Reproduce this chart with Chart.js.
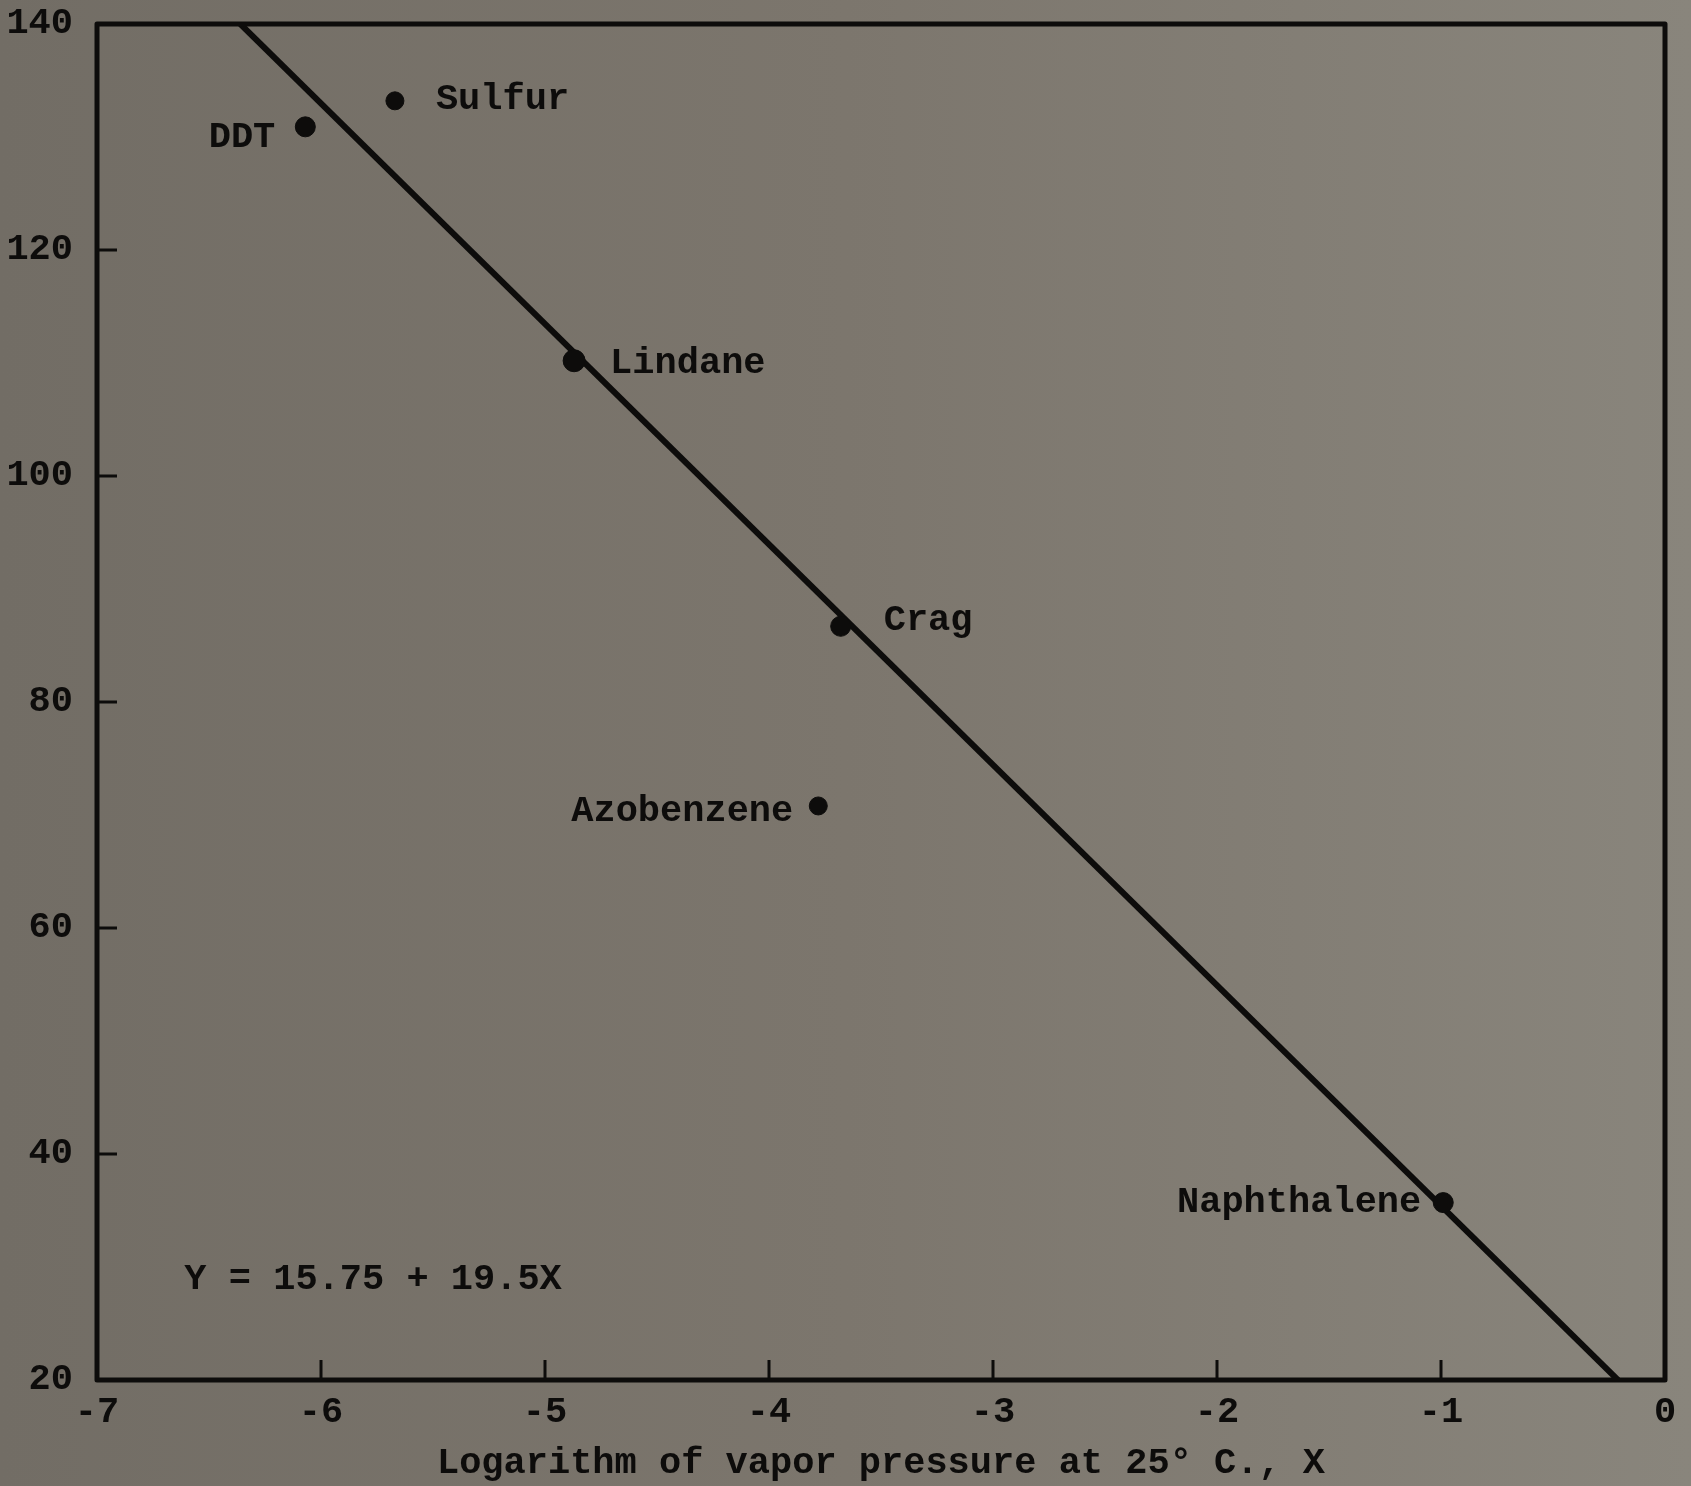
<!DOCTYPE html>
<html>
<head>
<meta charset="utf-8">
<script src="https://cdn.jsdelivr.net/npm/chart.js@4"></script>
<style>
  html, body { margin: 0; padding: 0; background: #7b766e; }
  #wrap { width: 1691px; height: 1486px; }
</style>
</head>
<body>
<div id="wrap"><canvas id="chart" width="1691" height="1486"></canvas></div>
<script>
// compounds and their readings
const names = ["DDT", "Sulfur", "Lindane", "Crag", "Azobenzene", "Naphthalene"];
const logVapor = [-6.07, -5.67, -4.87, -3.68, -3.78, -0.99];
const yValues = [130.9, 133.2, 110.2, 86.7, 70.8, 35.7];

// fitted line, end points where it meets the frame
const fitX = [-6.36, -0.21];
const fitY = [140, 20];

const equation = "Y = 15.75 + 19.5X";
const equationAt = { x: -6.61, y: 28.9 };

const xTicks = [-7, -6, -5, -4, -3, -2, -1, 0];
const yTicks = [20, 40, 60, 80, 100, 120, 140];

const FONT = "'Liberation Mono', 'DejaVu Sans Mono', monospace";
const INK = "#0d0c0b";

// where each name sits relative to its dot: [dx, dy, align]
const labelPlace = [
  [-30, 11, "right"],
  [41, -1, "left"],
  [36, 3, "left"],
  [43, -6, "left"],
  [-25, 6, "right"],
  [-22, 0, "right"],
];
const dotSize = [10, 9, 11, 10, 9, 10];

const paper = {
  id: "paper",
  beforeDraw(chart) {
    const { ctx, width, height } = chart;
    const g = ctx.createLinearGradient(0, 0, width, 0);
    g.addColorStop(0, "#726d65");
    g.addColorStop(0.5, "#7c766d");
    g.addColorStop(1, "#89857c");
    ctx.save();
    ctx.fillStyle = g;
    ctx.fillRect(0, 0, width, height);
    ctx.restore();
  },
};

const frame = {
  id: "frame",
  afterDraw(chart) {
    const { ctx, chartArea: a, scales } = chart;
    ctx.save();
    ctx.strokeStyle = INK;
    ctx.lineWidth = 5;
    ctx.lineJoin = "round";
    ctx.strokeRect(a.left, a.top, a.right - a.left, a.bottom - a.top);
    ctx.lineWidth = 3;
    ctx.beginPath();
    xTicks.slice(1, -1).forEach((v) => {
      const px = scales.x.getPixelForValue(v);
      ctx.moveTo(px, a.bottom);
      ctx.lineTo(px, a.bottom - 20);
    });
    yTicks.slice(1, -1).forEach((v) => {
      const py = scales.y.getPixelForValue(v);
      ctx.moveTo(a.left, py);
      ctx.lineTo(a.left + 20, py);
    });
    ctx.stroke();

    ctx.fillStyle = INK;
    ctx.font = "bold 37px " + FONT;
    ctx.textBaseline = "middle";
    ctx.textAlign = "left";
    ctx.fillText(equation, scales.x.getPixelForValue(equationAt.x), scales.y.getPixelForValue(equationAt.y));
    ctx.restore();
  },
};

const nameLabels = {
  id: "names",
  afterDatasetsDraw(chart) {
    const { ctx } = chart;
    const meta = chart.getDatasetMeta(0);
    ctx.save();
    ctx.fillStyle = INK;
    ctx.font = "bold 37px " + FONT;
    ctx.textBaseline = "middle";
    meta.data.forEach((pt, i) => {
      const [dx, dy, align] = labelPlace[i];
      ctx.textAlign = align;
      ctx.fillText(names[i], pt.x + dx, pt.y + dy);
    });
    ctx.restore();
  },
};

new Chart(document.getElementById("chart"), {
  type: "scatter",
  data: {
    datasets: [
      {
        label: "compounds",
        data: logVapor.map((x, i) => ({ x, y: yValues[i] })),
        backgroundColor: INK,
        borderColor: INK,
        pointRadius: dotSize,
        pointHoverRadius: dotSize,
      },
      {
        label: "fit",
        data: fitX.map((x, i) => ({ x, y: fitY[i] })),
        showLine: true,
        borderColor: INK,
        borderWidth: 6,
        pointRadius: 0,
      },
    ],
  },
  options: {
    responsive: false,
    animation: false,
    events: [],
    layout: { padding: { top: 24, right: 26, left: 0, bottom: 0 } },
    plugins: {
      legend: { display: false },
      tooltip: { enabled: false },
    },
    scales: {
      x: {
        type: "linear",
        min: -7,
        max: 0,
        afterBuildTicks: (s) => { s.ticks = xTicks.map((v) => ({ value: v })); },
        afterFit: (s) => { s.height = 106; s.paddingLeft = 0; s.paddingRight = 0; },
        grid: { display: false, drawTicks: false },
        border: { display: false },
        ticks: {
          color: INK,
          padding: 10,
          font: { family: FONT, size: 37, weight: "bold" },
        },
        title: {
          display: true,
          text: "Logarithm of vapor pressure at 25° C., X",
          color: INK,
          padding: { top: 0, bottom: 0 },
          font: { family: FONT, size: 37, weight: "bold" },
        },
      },
      y: {
        type: "linear",
        min: 20,
        max: 140,
        afterBuildTicks: (s) => { s.ticks = yTicks.map((v) => ({ value: v })); },
        afterFit: (s) => { s.width = 97; s.paddingTop = 0; s.paddingBottom = 0; },
        grid: { display: false, drawTicks: false },
        border: { display: false },
        ticks: {
          color: INK,
          padding: 24,
          font: { family: FONT, size: 37, weight: "bold" },
        },
      },
    },
  },
  plugins: [paper, frame, nameLabels],
});
</script>
</body>
</html>
